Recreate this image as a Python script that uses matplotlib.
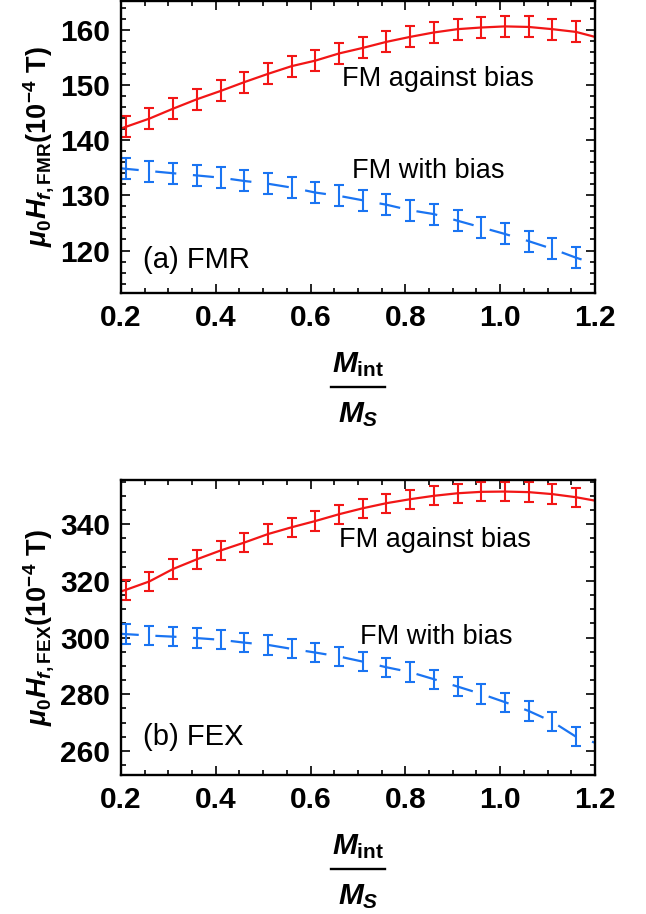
import matplotlib.pyplot as plt
from matplotlib.lines import Line2D
from matplotlib.ticker import MultipleLocator

plt.rcParams['font.family'] = 'Liberation Sans'
plt.rcParams['mathtext.fontset'] = 'custom'
plt.rcParams['mathtext.rm'] = 'Liberation Sans:bold'
plt.rcParams['mathtext.bf'] = 'Liberation Sans:bold'
plt.rcParams['mathtext.it'] = 'Liberation Sans:bold:italic'

# M_int / M_S values where the error bars sit
x_pts = [0.21, 0.26, 0.31, 0.36, 0.41, 0.46, 0.51, 0.56, 0.61, 0.66,
         0.71, 0.76, 0.81, 0.86, 0.91, 0.96, 1.01, 1.06, 1.11, 1.16]
x_ends = [0.20, 1.20]

# (a) FMR field, 10^-4 T
fmr_against = [142.4, 143.9, 145.7, 147.4, 148.9, 150.5, 152.0, 153.4, 154.4, 155.7,
               156.7, 157.8, 158.7, 159.5, 160.1, 160.4, 160.6, 160.5, 160.1, 159.6]
fmr_against_ends = [142.1, 158.7]
fmr_with = [134.8, 134.4, 134.0, 133.6, 133.2, 132.6, 132.1, 131.4, 130.5, 129.9,
            129.1, 128.3, 127.3, 126.6, 125.4, 124.2, 123.0, 121.7, 120.3, 118.7]
fmr_with_ends = [134.9, 117.6]
fmr_err = 1.9

# (b) FEX field, 10^-4 T
fex_against = [316.8, 319.8, 324.2, 327.6, 330.7, 333.5, 336.5, 338.9, 341.1, 343.5,
               345.6, 347.4, 348.8, 350.0, 350.9, 351.4, 351.5, 351.3, 350.6, 349.5]
fex_against_ends = [316.3, 348.3]
fex_with = [301.2, 300.7, 300.3, 299.8, 299.2, 298.2, 297.4, 296.0, 294.7, 293.3,
            291.5, 289.5, 287.8, 285.3, 282.7, 280.1, 277.2, 274.1, 270.3, 265.0]
fex_with_ends = [301.3, 262.9]
fex_err = 3.4

xticks = [0.2, 0.4, 0.6, 0.8, 1.0, 1.2]
xlabels = ['0.2', '0.4', '0.6', '0.8', '1.0', '1.2']

red = '#f21616'
blue = '#1a74f2'

fig = plt.figure(figsize=(6.46, 9.14), dpi=100)
ax_a = fig.add_axes([0.1873, 0.6794, 0.7337, 0.3195])
ax_b = fig.add_axes([0.1873, 0.1521, 0.7337, 0.3228])


def draw_panel(ax, against, against_ends, with_, with_ends, err):
    xa = [x_ends[0]] + x_pts + [x_ends[1]]
    ax.plot(xa, [against_ends[0]] + against + [against_ends[1]], color=red, lw=1.6)
    ax.errorbar(x_pts, against, yerr=err, fmt='none', ecolor=red, elinewidth=1.5,
                capsize=3.5, capthick=1.5)
    ax.plot(xa, [with_ends[0]] + with_ + [with_ends[1]], color=blue, lw=1.6,
            linestyle=(1.5, (9.5, 7.5)))
    ax.errorbar(x_pts, with_, yerr=err, fmt='none', ecolor=blue, elinewidth=1.5,
                capsize=3.5, capthick=1.5)
    ax.set_xlim(0.2, 1.2)
    ax.set_xticks(xticks)
    ax.set_xticklabels(xlabels, fontweight='bold')
    ax.xaxis.set_minor_locator(MultipleLocator(0.05))
    ax.tick_params(which='both', direction='in', top=True, right=True, width=1.2)
    ax.tick_params(which='major', length=6.5, labelsize=21.5, pad=8)
    ax.tick_params(which='minor', length=3.5)
    for sp in ax.spines.values():
        sp.set_linewidth(1.7)

    # x label as a stacked fraction M_int / M_S under the axis
    pos = ax.get_position()
    xc = (pos.x0 + pos.x1) / 2
    fig.text(xc, pos.y0 - 0.0864, r'$M_{\mathrm{int}}$', fontsize=21.5,
             ha='center', va='baseline')
    fig.add_artist(Line2D([xc - 0.042, xc + 0.042], [pos.y0 - 0.1028] * 2,
                          color='black', lw=1.7, transform=fig.transFigure))
    fig.text(xc, pos.y0 - 0.1411, r'$M_S$', fontsize=21.5, ha='center', va='baseline')


draw_panel(ax_a, fmr_against, fmr_against_ends, fmr_with, fmr_with_ends, fmr_err)
ax_a.set_ylim(112.3, 165.2)
ax_a.set_yticks([120, 130, 140, 150, 160])
ax_a.set_yticklabels(['120', '130', '140', '150', '160'], fontweight='bold')
ax_a.yaxis.set_minor_locator(MultipleLocator(2))
ax_a.set_ylabel(r'$\mu_0 H_{f,\mathrm{FMR}}(10^{-4}\ \mathrm{T})$', fontsize=19.5, labelpad=3)
ax_a.text(0.869, 151.1, 'FM against bias', fontsize=19.5, ha='center', va='center')
ax_a.text(0.848, 134.4, 'FM with bias', fontsize=19.5, ha='center', va='center')
ax_a.text(0.246, 118.2, '(a) FMR', fontsize=21, ha='left', va='center')

draw_panel(ax_b, fex_against, fex_against_ends, fex_with, fex_with_ends, fex_err)
ax_b.set_ylim(251.5, 355.6)
ax_b.set_yticks([260, 280, 300, 320, 340])
ax_b.set_yticklabels(['260', '280', '300', '320', '340'], fontweight='bold')
ax_b.yaxis.set_minor_locator(MultipleLocator(5))
ax_b.set_ylabel(r'$\mu_0 H_{f,\mathrm{FEX}}(10^{-4}\ \mathrm{T})$', fontsize=19.5, labelpad=3)
ax_b.text(0.862, 334.5, 'FM against bias', fontsize=19.5, ha='center', va='center')
ax_b.text(0.866, 300.3, 'FM with bias', fontsize=19.5, ha='center', va='center')
ax_b.text(0.246, 265.0, '(b) FEX', fontsize=21, ha='left', va='center')

plt.savefig('out.png', dpi=100)
